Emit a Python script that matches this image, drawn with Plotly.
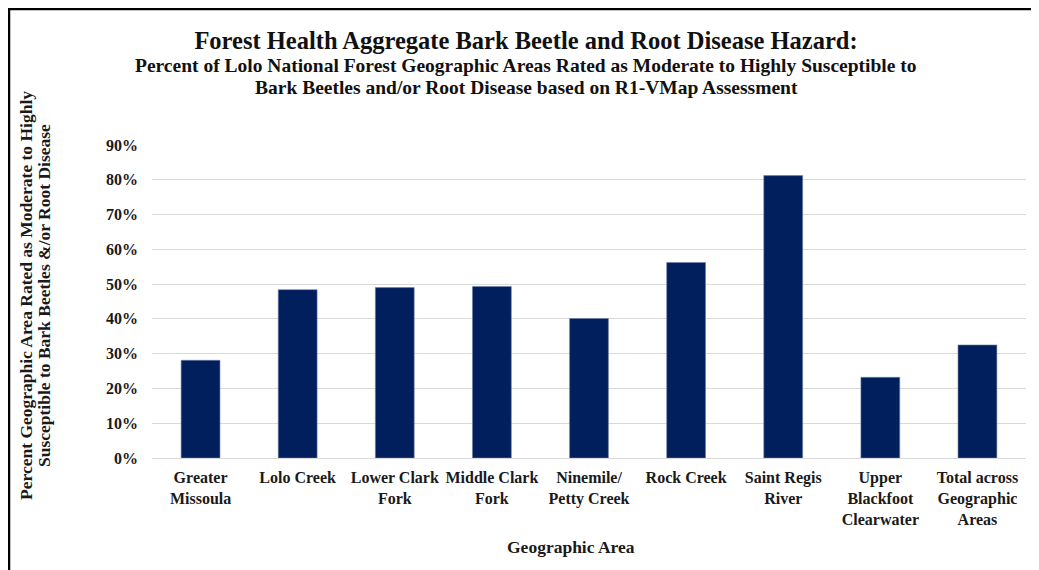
import plotly.graph_objects as go

categories = [
    "Greater<br>Missoula",
    "Lolo Creek",
    "Lower Clark<br>Fork",
    "Middle Clark<br>Fork",
    "Ninemile/<br>Petty Creek",
    "Rock Creek",
    "Saint Regis<br>River",
    "Upper<br>Blackfoot<br>Clearwater",
    "Total across<br>Geographic<br>Areas",
]
values = [0.281, 0.484, 0.490, 0.493, 0.401, 0.562, 0.812, 0.232, 0.325]
tick_vals = [0, 0.1, 0.2, 0.3, 0.4, 0.5, 0.6, 0.7, 0.8, 0.9]
tick_text = ["0%", "10%", "20%", "30%", "40%", "50%", "60%", "70%", "80%", "90%"]

title_main = "Forest Health Aggregate Bark Beetle and Root Disease Hazard:"
subtitle_lines = [
    "Percent of Lolo National Forest Geographic Areas Rated as Moderate to Highly Susceptible to",
    "Bark Beetles and/or Root Disease based on R1-VMap Assessment",
]
y_title_lines = [
    "Percent Geographic Area Rated as Moderate to Highly",
    "Susceptible to Bark Beetles &/or Root Disease",
]
x_title = "Geographic Area"

FONT = "Liberation Serif"
OFF = 8  # page body margin offset
W, H = 1039 - OFF, 570 - OFF
L, T = 152 - OFF, 145 - OFF
PR, PB = 1026 - OFF, 458 - OFF
R, B = W - PR, H - PB
pw, ph = PR - L, PB - T


def px_x(x):
    return (x - OFF - L) / pw


def px_y(y):
    return (PB - (y - OFF)) / ph


fig = go.Figure(go.Bar(
    x=categories, y=values,
    marker=dict(color="#001F5C", line=dict(color="#6F7FA8", width=0.6)),
    width=0.4,
))

fig.update_layout(
    width=W, height=H,
    margin=dict(l=L, r=R, t=T, b=B),
    paper_bgcolor="white", plot_bgcolor="white",
    showlegend=False,
    font=dict(family=FONT, color="#1a1a1a"),
    title=dict(text="<b>" + title_main + "</b>", x=(526 - OFF) / W, xanchor="center",
               y=1 - (40 - OFF) / H, yanchor="middle",
               font=dict(family=FONT, size=24.5, color="#111111")),
    xaxis=dict(showgrid=False, showline=False, ticks="",
               tickvals=categories,
               ticktext=["<b>" + c + "</b>" for c in categories],
               tickfont=dict(family=FONT, size=16, color="#1a1a1a"),
               ticklabelstandoff=8, tickangle=0),
    yaxis=dict(range=[0, 0.9], tickvals=tick_vals,
               ticktext=["<b>" + t + "</b>" for t in tick_text],
               showgrid=True, gridcolor="#D9D9D9", gridwidth=1,
               zeroline=True, zerolinecolor="#D9D9D9", zerolinewidth=1,
               showline=False, ticks="",
               tickfont=dict(family=FONT, size=16, color="#1a1a1a"),
               ticklabelstandoff=13),
    bargap=0.6,
)

for txt, yc in zip(subtitle_lines, [66, 88]):
    fig.add_annotation(text="<b>" + txt + "</b>", xref="paper", yref="paper",
                       x=px_x(526), y=px_y(yc), xanchor="center", yanchor="middle",
                       showarrow=False, align="center",
                       font=dict(family=FONT, size=19.5, color="#111111"))
for txt, xc in zip(y_title_lines, [26, 44]):
    fig.add_annotation(text="<b>" + txt + "</b>", xref="paper", yref="paper",
                       x=px_x(xc), y=px_y(296), xanchor="center", yanchor="middle",
                       textangle=-90, showarrow=False, align="center",
                       font=dict(family=FONT, size=17.5, color="#1a1a1a"))
fig.add_annotation(text="<b>" + x_title + "</b>", xref="paper", yref="paper",
                   x=px_x(571), y=px_y(547), xanchor="center", yanchor="middle",
                   showarrow=False,
                   font=dict(family=FONT, size=17.5, color="#1a1a1a"))

# frame lines (top and left, black)
fig.add_shape(type="line", xref="paper", yref="paper",
              x0=px_x(8), x1=px_x(1039), y0=px_y(9), y1=px_y(9),
              line=dict(color="black", width=2.5))
fig.add_shape(type="line", xref="paper", yref="paper",
              x0=px_x(9), x1=px_x(9), y0=px_y(9), y1=px_y(570),
              line=dict(color="black", width=2.5))

fig.write_html("out.html")
